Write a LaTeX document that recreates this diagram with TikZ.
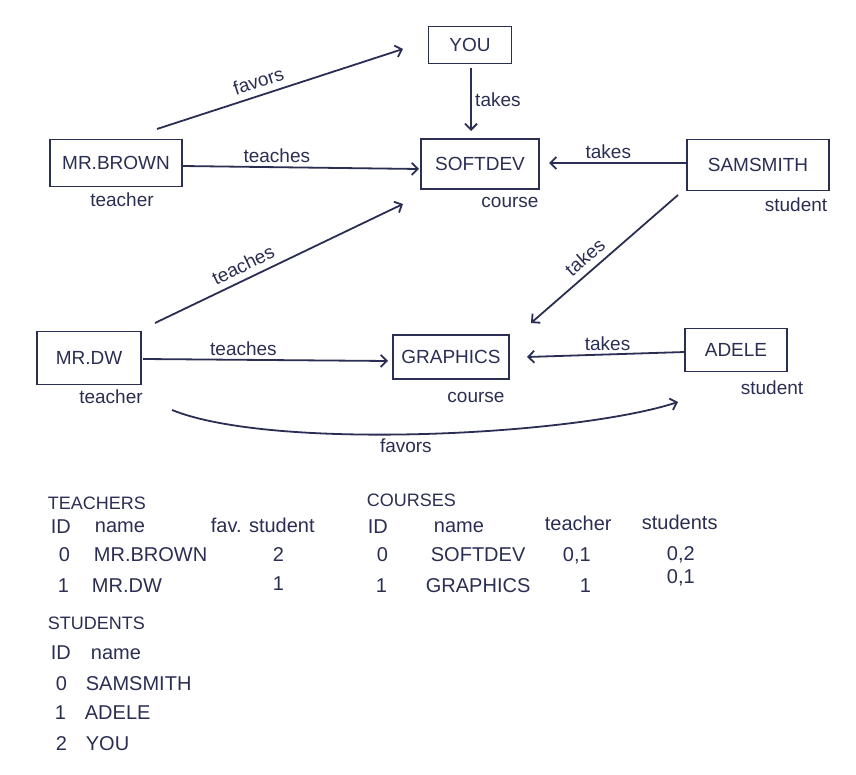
\documentclass[tikz,border=0pt]{standalone}
\usepackage{fontspec}
\setmainfont{Liberation Sans}
\usetikzlibrary{arrows.meta}
\definecolor{ink}{RGB}{42,46,82}

\begin{document}
\begin{tikzpicture}[x=1pt,y=-1pt,color=ink,line width=1.8pt,
		>={Straight Barb[length=6pt,width=12pt]},
		entity/.style 2 args={draw,inner sep=0pt,minimum width=#1pt,minimum height=#2pt,font=\fontsize{19}{22}\selectfont},
		role/.style={font=\fontsize{19}{22}\selectfont},
		rel/.style={font=\fontsize{19}{22}\selectfont},
		title/.style={anchor=base west,inner sep=0pt,font=\fontsize{18}{22}\selectfont},
		cell/.style={anchor=base west,inner sep=0pt,font=\fontsize{20}{24}\selectfont}]
		\useasboundingbox (0,0) rectangle (856,775);

		% the graph
		\node[entity={83}{37}] (you) at (470,45) {YOU};
		\node[entity={118}{50}] (soft) at (480,164) {SOFTDEV};
		\node[entity={132}{47}] (brown) at (116,163) {MR.BROWN};
		\node[entity={142}{51}] (sam) at (758,165) {SAMSMITH};
		\node[entity={104}{53}] (dw) at (89,358) {MR.DW};
		\node[entity={116}{44}] (graph) at (451,357) {GRAPHICS};
		\node[entity={102}{43}] (adele) at (736,350) {ADELE};

		\node[role] (browntype) at (122,200) {teacher};
		\node[role] (softtype) at (510,202) {course};
		\node[role] (samtype) at (796,205) {student};
		\node[role] (dwtype) at (111,397) {teacher};
		\node[role] (graphtype) at (476,397) {course};
		\node[role] (adeletype) at (772,388) {student};

		\draw[->] ([xshift=41pt,yshift=34pt]brown.center) -- node[rel,above=3pt,sloped,pos=0.43] {favors} ([xshift=-67pt,yshift=-4pt]you.center);
		\draw[->] ([xshift=1pt,yshift=-23pt]you.center) -- node[rel,right] {takes} ([xshift=-9pt,yshift=33pt]soft.center);
		\draw[->] ([xshift=66pt,yshift=-3pt]brown.center) -- node[rel,above,pos=0.4] {teaches} ([xshift=-61pt,yshift=-5pt]soft.center);
		\draw[->] ([xshift=-71pt,yshift=2pt]sam.center) -- node[rel,above,pos=0.57] {takes} ([xshift=69pt,yshift=1pt]soft.center);
		\draw[->] ([xshift=66pt,yshift=35pt]dw.center) -- node[rel,above=3pt,sloped,pos=0.38] {teaches} ([xshift=-77pt,yshift=-40pt]soft.center);
		\draw[->] ([xshift=-80pt,yshift=-30pt]sam.center) -- node[rel,above=3pt,sloped,pos=0.57] {takes} ([xshift=80pt,yshift=34pt]graph.center);
		\draw[->] ([xshift=54pt,yshift=-1pt]dw.center) -- node[rel,above,pos=0.41] {teaches} ([xshift=-63pt,yshift=-4pt]graph.center);
		\draw[->] ([xshift=-51pt,yshift=-2pt]adele.center) -- node[rel,above,pos=0.49] {takes} ([xshift=76pt]graph.center);
		\draw[->] ([xshift=83pt,yshift=-52pt]dw.center) to[out=-22,in=198,looseness=0.55] node[rel,below,pos=0.47] {favors} ([xshift=-58pt,yshift=-52pt]adele.center);

		% the tables
		\node[title] (teachers) at (47,509) {TEACHERS};
		\node[cell] (tid) at (50,533) {ID};
		\node[cell] (tname) at (94,532) {name};
		\node[cell] (tfav) at (210,532) {fav. student};
		\node[cell] (tidzero) at (58,561) {0};
		\node[cell] (tbrown) at (93,561) {MR.BROWN};
		\node[cell] (tfavzero) at (272,561) {2};
		\node[cell] (tidone) at (57,592) {1};
		\node[cell] (tdw) at (91,592) {MR.DW};
		\node[cell] (tfavone) at (272,590) {1};

		\node[title] (courses) at (366,506) {COURSES};
		\node[cell] (cid) at (367,533) {ID};
		\node[cell] (cname) at (433,532) {name};
		\node[cell] (cteacher) at (544,530) {teacher};
		\node[cell] (cstudents) at (641,529) {students};
		\node[cell] (cidzero) at (376,561) {0};
		\node[cell] (csoft) at (430,561) {SOFTDEV};
		\node[cell] (cteachzero) at (562,561) {0,1};
		\node[cell] (cstudzero) at (666,560) {0,2};
		\node[cell] (cidone) at (375,592) {1};
		\node[cell] (cgraph) at (425,592) {GRAPHICS};
		\node[cell] (cteachone) at (579,592) {1};
		\node[cell] (cstudone) at (666,583) {0,1};

		\node[title] (students) at (47,629) {STUDENTS};
		\node[cell] (sid) at (50,659) {ID};
		\node[cell] (sname) at (90,659) {name};
		\node[cell] (sidzero) at (55,690) {0};
		\node[cell] (ssam) at (85,690) {SAMSMITH};
		\node[cell] (sidone) at (54,719) {1};
		\node[cell] (sadele) at (84,719) {ADELE};
		\node[cell] (sidtwo) at (55,750) {2};
		\node[cell] (syou) at (85,750) {YOU};
	\end{tikzpicture}
\end{document}
